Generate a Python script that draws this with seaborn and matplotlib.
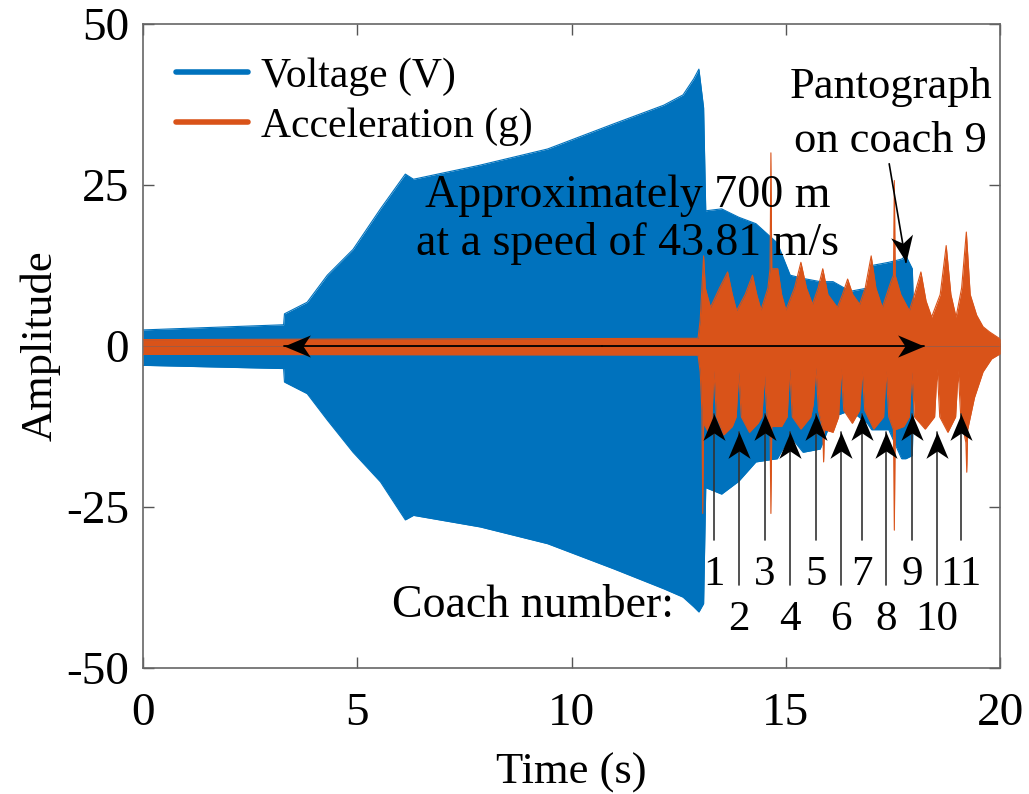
import numpy as np
import pandas as pd
import seaborn as sns
import matplotlib
matplotlib.use("Agg")
import matplotlib.pyplot as plt
from matplotlib.lines import Line2D
from matplotlib.markers import MarkerStyle
from matplotlib.path import Path
from matplotlib.transforms import Affine2D

BLUE = "#0072BD"
ORANGE = "#D95319"

# voltage envelope (V)
volt_t = [0, 3.28, 3.30, 3.83, 4.30, 4.90, 5.54, 6.12, 6.31, 7.87, 9.44, 10.98,
          12.15, 12.60, 12.85, 12.97, 13.08, 13.13, 13.50, 13.90, 14.30, 14.80,
          15.10, 15.40, 15.80, 16.10, 16.50, 16.90, 17.00, 17.40, 17.70, 17.80,
          17.95, 18.00, 20.00]
volt_hi = [2.5, 3.3, 5.0, 6.8, 11.0, 15.0, 21.3, 26.7, 25.9, 28.1, 30.6, 34.5,
           37.4, 39.0, 41.5, 43.0, 37.0, 21.0, 21.3, 20.0, 19.0, 16.0,
           11.0, 10.5, 10.0, 10.0, 8.5, 9.0, 12.5, 13.0, 13.5, 14.0,
           12.0, 0.5, 0.5]
volt_lo = [-3.0, -3.5, -5.6, -7.4, -11.5, -16.5, -21.1, -27.0, -26.3, -28.1, -30.7, -34.6,
           -37.7, -39.0, -40.5, -41.3, -40.0, -22.0, -23.0, -21.0, -18.0, -17.5,
           -14.0, -16.5, -16.0, -11.0, -10.0, -12.0, -13.0, -13.0, -17.5, -17.5,
           -17.0, -0.5, -0.5]

# acceleration envelope (g), upper side
acc_hi_t = [0, 12.95, 13.0, 13.08, 13.12, 13.24, 13.45, 13.64, 13.75, 13.85, 14.05,
            14.22, 14.32, 14.42, 14.58, 14.63, 14.65, 14.67, 14.81, 14.9, 15.0,
            15.2, 15.35, 15.48, 15.62, 15.75, 15.86, 15.98, 16.2, 16.32, 16.44,
            16.56, 16.72, 16.85, 16.99, 17.1, 17.25, 17.45, 17.51, 17.53, 17.55,
            17.68, 17.88, 18.0, 18.15, 18.27, 18.4, 18.6, 18.74, 18.85, 18.97,
            19.1, 19.21, 19.3, 19.45, 19.6, 19.75, 20.0]
acc_hi = [1.0, 1.2, 4.0, 14.0, 9.0, 6.0, 9.0, 11.5, 8.0, 5.5, 8.0,
          11.0, 8.0, 5.6, 9.0, 12.0, 30.0, 12.0, 12.0, 8.0, 5.6,
          9.0, 13.0, 9.0, 6.5, 9.0, 12.0, 8.0, 6.0, 8.0, 10.4,
          8.0, 6.5, 9.0, 14.0, 9.0, 6.0, 10.0, 11.0, 25.7, 11.0,
          8.0, 5.5, 8.0, 11.5, 7.0, 4.5, 8.0, 15.6, 8.0, 4.5,
          9.0, 17.7, 8.0, 4.8, 3.0, 2.2, 1.1]

# acceleration envelope (g), lower side
acc_lo_t = [0, 12.95, 13.0, 13.04, 13.06, 13.08, 13.2, 13.27, 13.32, 13.38, 13.55,
            13.75, 13.84, 13.9, 13.96, 14.15, 14.35, 14.44, 14.5, 14.56, 14.63,
            14.65, 14.67, 14.9, 15.03, 15.09, 15.15, 15.35, 15.58, 15.64, 15.7,
            15.76, 15.86, 15.88, 15.9, 16.1, 16.23, 16.29, 16.35, 16.55, 16.72,
            16.78, 16.84, 17.05, 17.28, 17.34, 17.4, 17.51, 17.53, 17.55, 17.75,
            17.88, 17.94, 18.0, 18.25, 18.47, 18.53, 18.59, 18.78, 18.96, 19.02,
            19.08, 19.2, 19.22, 19.24, 19.4, 19.6, 19.8, 20.0]
acc_lo = [-1.3, -1.4, -4.0, -10.0, -26.0, -12.0, -13.5, -12.0, -3.8, -11.0, -13.8,
          -12.5, -11.0, -4.0, -11.0, -13.4, -12.0, -11.0, -4.5, -11.0, -12.5,
          -26.0, -12.5, -12.5, -11.0, -3.5, -11.0, -12.9, -11.0, -9.0, -3.3,
          -10.0, -13.0, -18.0, -13.0, -13.4, -11.0, -3.5, -10.0, -12.0, -10.0,
          -3.8, -10.0, -12.9, -11.0, -3.8, -11.0, -13.0, -28.6, -13.0, -12.5,
          -11.0, -4.0, -11.0, -12.9, -11.0, -3.5, -11.0, -13.4, -11.0, -3.8,
          -11.0, -15.0, -19.6, -13.0, -8.0, -4.0, -2.0, -1.2]

coach_t = [13.32, 13.90, 14.51, 15.09, 15.70, 16.29, 16.78, 17.34, 17.94, 18.53, 19.09]
coach_labels = [str(i) for i in range(1, 12)]

x_ticks = [0, 5, 10, 15, 20]
y_ticks = [-50, -25, 0, 25, 50]

sns.set_style("ticks")
plt.rcParams['font.family'] = ['Liberation Serif', 'DejaVu Serif']
plt.rcParams['axes.unicode_minus'] = False
plt.rcParams['text.color'] = 'black'
plt.rcParams['axes.labelcolor'] = 'black'

fig = plt.figure(figsize=(10.29, 7.94), dpi=100)
ax = fig.add_axes([0.139, 0.1587, 0.833, 0.811])

volt = pd.DataFrame({'t': volt_t, 'hi': volt_hi, 'lo': volt_lo})
ax.fill_between(volt['t'], volt['lo'], volt['hi'], color=BLUE, lw=0, zorder=2)
sns.lineplot(data=volt, x='t', y='hi', color=BLUE, lw=0.8, ax=ax, zorder=2)
sns.lineplot(data=volt, x='t', y='lo', color=BLUE, lw=0.8, ax=ax, zorder=2)

acc_up = pd.DataFrame({'t': acc_hi_t, 'v': acc_hi})
acc_dn = pd.DataFrame({'t': acc_lo_t, 'v': acc_lo})
ax.fill_between(acc_up['t'], 0, acc_up['v'], color=ORANGE, lw=0, zorder=3)
ax.fill_between(acc_dn['t'], acc_dn['v'], 0, color=ORANGE, lw=0, zorder=3)
sns.lineplot(data=acc_up, x='t', y='v', color=ORANGE, lw=0.8, ax=ax, zorder=3)
sns.lineplot(data=acc_dn, x='t', y='v', color=ORANGE, lw=0.8, ax=ax, zorder=3)

ax.set_xlim(0, 20)
ax.set_ylim(-50, 50)
ax.set_xticks(x_ticks)
ax.set_yticks(y_ticks)
ax.tick_params(direction='in', top=True, right=True, length=8, width=1,
               color='#555555', labelcolor='black', labelsize=34)
ax.tick_params(axis='x', pad=18)
ax.tick_params(axis='y', pad=10)
for sp in ax.spines.values():
    sp.set_color('#666666')
    sp.set_linewidth(1.2)
ax.set_xlabel("Time (s)", fontsize=32, labelpad=12)
ax.set_ylabel("Amplitude", fontsize=32, labelpad=4)

HEAD = Path([(0, 0), (-0.42, -1.0), (0, -0.72), (0.42, -1.0), (0, 0)],
            [Path.MOVETO, Path.LINETO, Path.LINETO, Path.LINETO, Path.CLOSEPOLY])


def arrow(x0, y0, x1, y1, color='k', lw=1.2):
    # line from (x0, y0) to tip at (x1, y1) with a MATLAB style head
    ax.plot([x0, x1], [y0, y1], color=color, lw=lw, zorder=5)
    p0 = ax.transData.transform((x0, y0))
    p1 = ax.transData.transform((x1, y1))
    ang = np.degrees(np.arctan2(p1[1] - p0[1], p1[0] - p0[0])) - 90
    m = MarkerStyle(HEAD, transform=Affine2D().rotate_deg(ang))
    ax.plot([x1], [y1], marker=m, ms=38, color='k', mec='none', ls='none', zorder=6)


# double arrow for the ~700 m span
mid = 10.7
arrow(mid, 0, 3.29, 0, lw=1.3)
arrow(mid, 0, 18.22, 0, lw=1.3)

# coach arrows
for i, (t, lab) in enumerate(zip(coach_t, coach_labels)):
    if i % 2 == 0:
        arrow(t, -30.1, t, -10.6, color='#333333')
        ax.text(t, -37.1, lab, ha='center', va='baseline', fontsize=31)
    else:
        arrow(t, -37.1, t, -13.4, color='#333333')
        ax.text(t, -44.1, lab, ha='center', va='baseline', fontsize=31)

ax.text(12.38, -42.1, "Coach number:", ha='right', va='baseline', fontsize=33)
ax.text(11.31, 21.6, "Approximately 700 m", ha='center', va='baseline', fontsize=33, zorder=7)
ax.text(11.31, 14.1, "at a speed of 43.81 m/s", ha='center', va='baseline', fontsize=33, zorder=7)
ax.text(17.45, 38.5, "Pantograph", ha='center', va='baseline', fontsize=32)
ax.text(17.45, 30.1, "on coach 9", ha='center', va='baseline', fontsize=32)
arrow(17.41, 28.3, 17.80, 13.0, lw=1.2)

handles = [Line2D([0], [0], color=BLUE, lw=4), Line2D([0], [0], color=ORANGE, lw=4)]
ax.legend(handles, ["Voltage (V)", "Acceleration (g)"], loc='upper left',
          bbox_to_anchor=(0.039, 0.948), frameon=False, fontsize=30,
          handlelength=1.72, handletextpad=0.3, labelspacing=0.27,
          borderaxespad=0, borderpad=0)

fig.savefig("out.png", dpi=100)
